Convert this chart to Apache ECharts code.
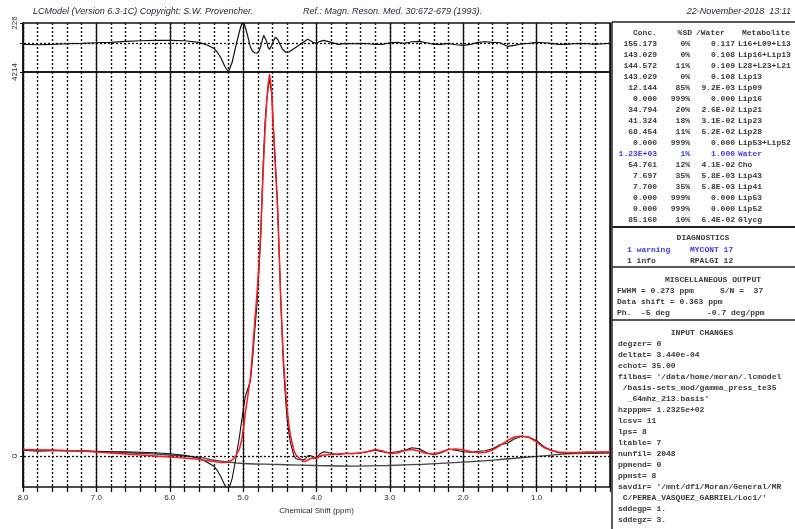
<!DOCTYPE html>
<html><head><meta charset="utf-8">
<script src="https://cdn.jsdelivr.net/npm/echarts@6/dist/echarts.min.js"></script>
<style>html,body{margin:0;padding:0;background:#fff}#c{width:795px;height:529px}</style>
</head><body><div id="c"></div>
<script>
// ---- spectrum data (ppm, arbitrary intensity units) ----
const ppm = [8.0,7.8,7.6,7.4,7.2,7.0,6.8,6.6,6.4,6.2,6.0,5.8,5.6,5.5,5.4,5.35,5.3,5.25,5.2,5.15,5.1,5.05,5.02,4.99,4.97,4.94,4.9,4.87,4.84,4.81,4.78,4.76,4.74,4.72,4.7,4.68,4.66,4.64,4.63,4.61,4.59,4.56,4.53,4.51,4.49,4.47,4.45,4.42,4.4,4.37,4.35,4.31,4.28,4.25,4.22,4.18,4.15,4.12,4.08,4.05,4.0,3.95,3.9,3.8,3.7,3.6,3.5,3.4,3.3,3.2,3.1,3.0,2.9,2.8,2.7,2.6,2.5,2.4,2.3,2.2,2.1,2.0,1.9,1.8,1.7,1.6,1.5,1.4,1.3,1.2,1.1,1.0,0.9,0.8,0.7,0.6,0.5,0.4,0.3,0.2,0.1,0.0];
const fitVals = [71,66,66,60,55,44,33,22,11,0,-11,-22,-38,-49,-60,-66,-71,-71,-66,-44,0,77,176,329,472,636,867,1163,1492,1789,2173,2447,2864,3248,3599,3863,4071,4192,4203,3995,3610,3161,2700,2261,1789,1405,1054,702,505,307,209,66,11,-11,-33,-55,-60,-44,-27,-22,-27,0,11,16,22,27,27,33,49,71,55,27,33,60,71,55,27,22,44,71,77,66,49,38,38,66,115,170,209,219,203,154,93,60,44,38,38,38,44,44,44,44];
const dataVals = [63,53,58,58,58,53,47,47,42,36,25,9,-24,-62,-112,-161,-232,-320,-378,-249,-30,212,388,552,651,727,826,1079,1391,1683,2099,2417,2900,3339,3679,3888,4030,4129,4146,3976,3635,3230,2747,2275,1770,1353,980,607,399,217,130,9,-30,-35,-41,-41,-29,3,4,-8,-24,25,47,30,14,30,25,36,47,63,47,36,47,63,91,80,36,14,36,74,64,47,41,52,58,80,124,140,190,217,206,168,102,63,36,30,36,41,42,36,42,47];
const resVals = [-8,-13,-8,-2,3,9,14,25,31,36,36,31,14,-13,-52,-95,-161,-249,-312,-205,-30,135,212,223,179,91,-41,-84,-101,-106,-74,-30,36,91,80,25,-41,-63,-57,-19,25,69,47,14,-19,-52,-74,-95,-106,-90,-79,-57,-41,-24,-8,14,31,47,31,14,3,25,36,14,-8,3,-2,3,-2,-8,-8,9,14,3,20,25,9,-8,-8,3,-13,-19,-8,14,20,14,9,-30,-19,-2,3,14,9,3,-8,-8,-2,3,-2,-8,-2,3];
const basePpm = [8.0,7.5,7.0,6.5,6.0,5.6,5.4,5.2,5.0,4.5,4.0,3.5,3.0,2.5,2.0,1.5,1.0,0.5,0.0];
const baseVals = [71,60,49,33,11,-16,-44,-66,-82,-93,-104,-110,-104,-88,-66,-38,-5,27,33];

// axis extents / labelled ticks
const resMin = -312, resMax = 226;
const mainMin = -340, mainMax = 4214;

// ---- text panels ----
const titleLeft = 'LCModel (Version 6.3-1C) Copyright: S.W. Provencher.';
const titleRef = 'Ref.: Magn. Reson. Med. 30:672-679 (1993).';
const titleDate = '22-November-2018  13:11';
const xName = 'Chemical Shift (ppm)';
const tableHeader = ['Conc.', '%SD', '/Water', 'Metabolite'];
const concVals = ['155.173','143.029','144.572','143.029','12.144','0.000','34.794','41.324','68.454','0.000','1.23E+03','54.761','7.697','7.700','0.000','0.000','85.160'];
const sdVals = ['0%','0%','11%','0%','85%','999%','20%','18%','11%','999%','1%','12%','35%','35%','999%','999%','10%'];
const ratioVals = ['0.117','0.108','0.109','0.108','9.2E-03','0.000','2.6E-02','3.1E-02','5.2E-02','0.000','1.000','4.1E-02','5.8E-03','5.8E-03','0.000','0.000','6.4E-02'];
const metNames = ['L16+L09+L13','Lip16+Lip13','L28+L23+L21','Lip13','Lip09','Lip16','Lip21','Lip23','Lip28','Lip53+Lip52','Water','Cho','Lip43','Lip41','Lip53','Lip52','Glycg'];
const diagTitle = 'DIAGNOSTICS';
const diagLeft = ['1 warning', '1 info'];
const diagRight = ['MYCONT 17', 'RPALGI 12'];
const miscTitle = 'MISCELLANEOUS OUTPUT';
const miscLeft = ['FWHM = 0.273 ppm', 'Data shift = 0.363 ppm', 'Ph.  -5 deg'];
const miscRight = ['S/N =  37', '', '-0.7 deg/ppm'];
const inputTitle = 'INPUT CHANGES';
const inputLines = ["degzer= 0","deltat= 3.440e-04","echot= 35.00","filbas= '/data/home/moran/.lcmodel"," /basis-sets_mod/gamma_press_te35","  _64mhz_213.basis'","hzpppm= 1.2325e+02","lcsv= 11","lps= 8","ltable= 7","nunfil= 2048","ppmend= 0","ppmst= 8","savdir= '/mnt/df1/Moran/General/MR"," C/PEREA_VASQUEZ_GABRIEL/Loc1/'","sddegp= 1.","sddegz= 3."];

const pairs = (xs, ys) => xs.map((x, i) => [x, ys[i]]);
const MONO = 'bold 8px "Liberation Mono", "DejaVu Sans Mono", monospace';
const TXT = '#3a3a3a';
const BLUE = '#3b3bf0';

function txt(x, y, s, opt) {
  opt = opt || {};
  const a = opt.align || 'left';
  return { type: 'text', x: x, y: y, silent: true, z: 100,
    style: { text: s, font: opt.font || MONO, fill: opt.fill || TXT,
      align: a, textAlign: a, verticalAlign: 'middle', textVerticalAlign: 'middle' } };
}
function ln(x1, y1, x2, y2, w) {
  return { type: 'line', silent: true, z: 100, shape: { x1, y1, x2, y2 },
    style: { stroke: '#222', lineWidth: w || 1.5 } };
}

const g = [];
const TFONT = 'italic 9px "Liberation Sans", Arial, sans-serif';
g.push(txt(33, 11, titleLeft, { font: TFONT, fill: '#2a2a3a' }));
g.push(txt(303, 11, titleRef, { font: TFONT, fill: '#2a2a3a' }));
g.push(txt(791, 11, titleDate, { font: TFONT, fill: '#2a2a3a', align: 'right' }));

// boxes
g.push(ln(612, 22, 795, 22));
g.push(ln(612, 22, 612, 529));
g.push(ln(612, 227, 795, 227, 2));
g.push(ln(612, 267, 795, 267));
g.push(ln(612, 320, 795, 320));

// concentration table
g.push(txt(657, 33, tableHeader[0], { align: 'right' }));
g.push(txt(692, 33, tableHeader[1], { align: 'right' }));
g.push(txt(696, 33, tableHeader[2]));
g.push(txt(742, 33, tableHeader[3]));
concVals.forEach((c, i) => {
  const y = 44 + 11 * i;
  const f = metNames[i] === 'Water' ? BLUE : TXT;
  g.push(txt(657, y, c, { align: 'right', fill: f }));
  g.push(txt(690, y, sdVals[i], { align: 'right', fill: f }));
  g.push(txt(735, y, ratioVals[i], { align: 'right', fill: f }));
  g.push(txt(738, y, metNames[i], { fill: f }));
});

// diagnostics
g.push(txt(703, 238, diagTitle, { align: 'center' }));
diagLeft.forEach((s, i) => {
  const f = i === 0 ? BLUE : TXT;
  g.push(txt(627, 250 + 11 * i, s, { fill: f }));
  g.push(txt(690, 250 + 11 * i, diagRight[i], { fill: f }));
});

// misc output
g.push(txt(713, 280, miscTitle, { align: 'center' }));
miscLeft.forEach((s, i) => {
  g.push(txt(617, 291 + 11 * i, s));
  if (miscRight[i]) g.push(txt(i === 0 ? 720 : 707, 291 + 11 * i, miscRight[i]));
});

// input changes
g.push(txt(702, 333, inputTitle, { align: 'center' }));
inputLines.forEach((s, i) => g.push(txt(618, 344 + 11 * i, s)));

const solid = { show: true, lineStyle: { color: '#111', width: 1.3, type: 'solid' } };
const dotted = { show: true, lineStyle: { color: '#111', width: 1.4, type: [2, 2] } };
function xa(grid, interval, split, extra) {
  return Object.assign({
    gridIndex: grid, type: 'value', min: 0, max: 8, interval: interval, inverse: true,
    position: 'bottom',
    axisLine: { show: false, onZero: false }, axisTick: { show: false },
    axisLabel: { show: false }, splitLine: split
  }, extra || {});
}
const zeroLine = {
  silent: true, symbol: 'none', label: { show: false },
  lineStyle: { color: '#111', type: [2, 2], width: 1.3 }, data: [{ yAxis: 0 }]
};
const yLabelFont = { fontSize: 8, color: '#2a2a3a', fontFamily: '"Liberation Sans", Arial, sans-serif' };

const option = {
  animation: false,
  backgroundColor: '#fff',
  grid: [
    { left: 23, top: 23, width: 587, height: 49, show: true, borderColor: '#111', borderWidth: 1.5, backgroundColor: 'transparent' },
    { left: 23, top: 72, width: 587, height: 415, show: true, borderColor: '#111', borderWidth: 1.5, backgroundColor: 'transparent' }
  ],
  xAxis: [
    xa(0, 1, solid),
    xa(0, 0.2, dotted),
    xa(1, 1, solid, {
      axisLabel: { show: true, fontSize: 8, color: '#2a2a3a', margin: 7,
        fontFamily: '"Liberation Sans", Arial, sans-serif',
        formatter: v => (Math.abs(v) < 1e-9 ? '' : v.toFixed(1)) },
      name: xName, nameLocation: 'middle', nameGap: 19,
      nameTextStyle: { fontSize: 8, color: '#2a2a3a', fontFamily: '"Liberation Sans", Arial, sans-serif' }
    }),
    xa(1, 0.2, dotted, {
      axisTick: { show: true, length: 5, inside: false, lineStyle: { color: '#111', width: 1.3 } }
    })
  ],
  yAxis: [
    { gridIndex: 0, type: 'value', min: resMin, max: resMax,
      axisLine: { show: true, onZero: false, lineStyle: { color: '#111', width: 1.5 } },
      axisTick: { show: true, length: 3, customValues: [0, resMax], lineStyle: { color: '#111' } },
      axisLabel: Object.assign({ show: true, rotate: 90, margin: 4, customValues: [resMax],
        formatter: v => String(v) }, yLabelFont),
      splitLine: { show: false } },
    { gridIndex: 1, type: 'value', min: mainMin, max: mainMax,
      axisLine: { show: true, onZero: false, lineStyle: { color: '#111', width: 1.5 } },
      axisTick: { show: true, length: 3, customValues: [0, mainMax], lineStyle: { color: '#111' } },
      axisLabel: Object.assign({ show: true, rotate: 90, margin: 4, customValues: [0, mainMax],
        formatter: v => String(v) }, yLabelFont),
      splitLine: { show: false } }
  ],
  series: [
    { type: 'line', xAxisIndex: 0, yAxisIndex: 0, data: pairs(ppm, resVals), showSymbol: false,
      lineStyle: { color: '#111', width: 1.2 }, markLine: zeroLine, z: 5 },
    { type: 'line', xAxisIndex: 2, yAxisIndex: 1, data: pairs(basePpm, baseVals), showSymbol: false, smooth: true,
      lineStyle: { color: '#444', width: 1.3 }, markLine: zeroLine, z: 4 },
    { type: 'line', xAxisIndex: 2, yAxisIndex: 1, data: pairs(ppm, dataVals), showSymbol: false,
      lineStyle: { color: '#111', width: 1.1 }, z: 5 },
    { type: 'line', xAxisIndex: 2, yAxisIndex: 1, data: pairs(ppm, fitVals), showSymbol: false,
      lineStyle: { color: '#ff1a1a', width: 1.5 }, z: 6 }
  ],
  graphic: g
};
const chart = echarts.init(document.getElementById('c'), null, { renderer: 'canvas' });
chart.setOption(option);
</script>
</body></html>
